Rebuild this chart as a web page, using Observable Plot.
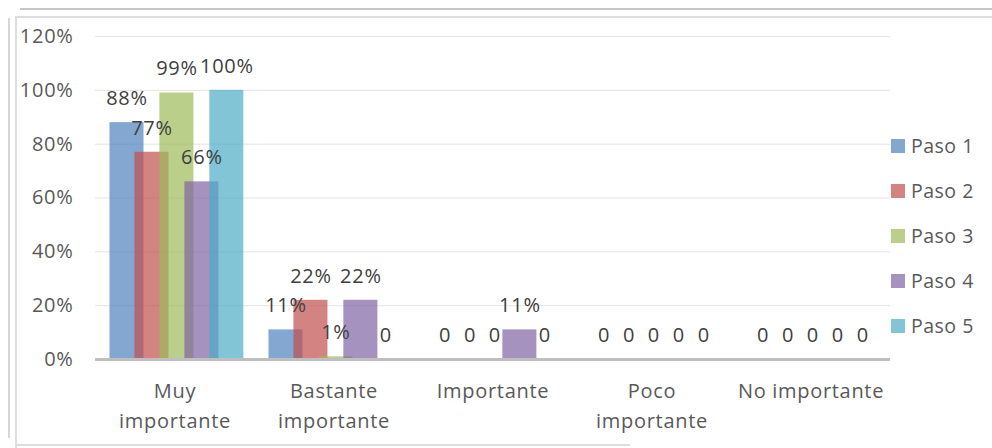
<!DOCTYPE html>
<html>
<head>
<meta charset="utf-8">
<script src="https://cdn.jsdelivr.net/npm/d3@7"></script>
<script src="https://cdn.jsdelivr.net/npm/@observablehq/plot@0.6"></script>
<style>
  html, body { margin: 0; padding: 0; background: #fff; }
  #wrap { position: relative; width: 992px; height: 448px; overflow: hidden; font-family: "Open Sans", sans-serif; }
  #wrap svg text { letter-spacing: 0.7px; }
  .deco { position: absolute; background: #d0d0d0; }
  #legend { position: absolute; left: 891px; top: 123px; display: flex; flex-direction: column; gap: 0; }
  .item { display: flex; align-items: center; height: 45px; font-size: 19.5px; letter-spacing: 0.5px; color: #595959; }
  .sw { width: 14px; height: 14px; margin-right: 6px; opacity: 0.7; }
</style>
</head>
<body>
<div id="wrap"></div>
<script>
// ---- data ----
const categories = ["Muy importante", "Bastante importante", "Importante", "Poco importante", "No importante"];
const categoryLabels = ["Muy\nimportante", "Bastante\nimportante", "Importante", "Poco\nimportante", "No importante"];
const seriesNames = ["Paso 1", "Paso 2", "Paso 3", "Paso 4", "Paso 5"];
const paso1 = [88, 11, 0, 0, 0];
const paso2 = [77, 22, 0, 0, 0];
const paso3 = [99, 1, 0, 0, 0];
const paso4 = [66, 22, 11, 0, 0];
const paso5 = [100, 0, 0, 0, 0];
const yTicks = [0, 20, 40, 60, 80, 100, 120];
const colors = ["#4F81BD", "#C0504D", "#9BBB59", "#8064A2", "#4BACC6"];

const seriesValues = [paso1, paso2, paso3, paso4, paso5];
const barWidth = 0.214, barStep = 0.157, groupShift = 0.012;
const rows = [];
seriesValues.forEach((vals, si) => {
  vals.forEach((v, ci) => {
    const center = ci + groupShift + (si - 2) * barStep;
    rows.push({series: seriesNames[si], category: categories[ci], ci, si, value: v,
               x1: center - barWidth / 2, x2: center + barWidth / 2, xc: center});
  });
});

const chart = Plot.plot({
  width: 992,
  height: 448,
  marginLeft: 95,
  marginRight: 102,
  marginTop: 36,
  marginBottom: 89,
  style: {fontFamily: "'Open Sans', sans-serif", fontSize: "20px", color: "#595959", background: "transparent"},
  x: {type: "linear", domain: [-0.5, 4.5]},
  y: {domain: [0, 120]},
  color: {domain: seriesNames, range: colors},
  marks: [
    Plot.gridY(yTicks, {stroke: "#e3e3e3", strokeOpacity: 1, strokeWidth: 1}),
    Plot.axisY(yTicks, {tickSize: 0, tickPadding: 22, tickFormat: d => d + "%", fill: "#595959", fontSize: 20, label: null}),
    Plot.axisX([0, 1, 2, 3, 4], {tickSize: 0, tickPadding: 17, tickFormat: i => categoryLabels[i], fill: "#595959", fontSize: 20, lineHeight: 1.5, label: null}),
    Plot.rectY(rows, {x1: "x1", x2: "x2", y: "value", fill: "series", fillOpacity: 0.7}),
    Plot.ruleY([0], {stroke: "#bfbfbf", strokeWidth: 3}),
    Plot.text(rows, {x: "xc", y: "value", text: d => d.value === 0 ? "0" : d.value + "%", dy: -24, fill: "#404040", fontSize: 20})
  ]
});

const wrap = document.getElementById("wrap");
chart.style.position = "absolute";
chart.style.left = "0";
chart.style.top = "0";
wrap.appendChild(chart);

// decorative frame (spreadsheet chart border)
const deco = [
  {l: 20, t: 8, w: 972, h: 2, c: "#c6c6c6"},
  {l: 16, t: 16, w: 976, h: 2, c: "#dedede"},
  {l: 15, t: 16, w: 2, h: 432, c: "#dedede"},
  {l: 8, t: 18, w: 2, h: 420, c: "#d6d6d6"},
  {l: 15, t: 444, w: 615, h: 2, c: "#dedede"}
];
deco.forEach(d => {
  const el = document.createElement("div");
  el.className = "deco";
  Object.assign(el.style, {left: d.l + "px", top: d.t + "px", width: d.w + "px", height: d.h + "px", background: d.c});
  wrap.appendChild(el);
});

// legend
const legend = document.createElement("div");
legend.id = "legend";
seriesNames.forEach((name, i) => {
  const item = document.createElement("div");
  item.className = "item";
  const sw = document.createElement("span");
  sw.className = "sw";
  sw.style.background = colors[i];
  item.appendChild(sw);
  item.appendChild(document.createTextNode(name));
  legend.appendChild(item);
});
wrap.appendChild(legend);
</script>
</body>
</html>
